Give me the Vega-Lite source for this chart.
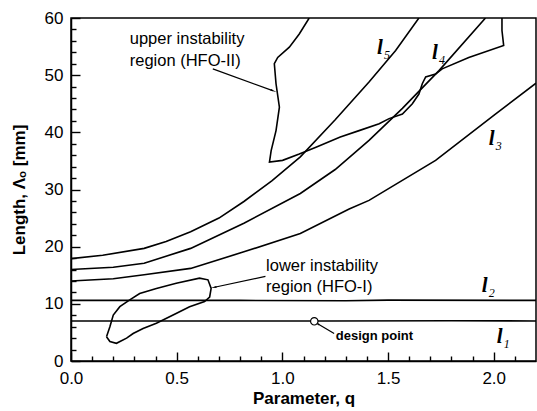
{
  "$schema": "https://vega.github.io/schema/vega-lite/v6.json",
  "width": 465,
  "height": 343,
  "autosize": "none",
  "padding": {"left": 71, "top": 18, "right": 1, "bottom": 50},
  "background": "white",
  "config": {
    "view": {"stroke": "black", "strokeWidth": 1.5},
    "axis": {
      "domainColor": "black", "domainWidth": 1.5, "tickColor": "black", "tickWidth": 1.4, "ticks": true,
      "labelColor": "black", "titleColor": "black", "grid": false, "labelOverlap": false, "labelFlush": false,
      "labelFont": "Liberation Sans", "labelFontSize": 17,
      "titleFont": "Liberation Sans", "titleFontSize": 17, "titleFontWeight": "bold"
    }
  },
  "datasets": {
    "curves": [
      {"s": "l1", "i": 0, "x": 0, "y": 7.0}, {"s": "l1", "i": 1, "x": 0.6, "y": 7.0}, {"s": "l1", "i": 2, "x": 1.2, "y": 7.0}, {"s": "l1", "i": 3, "x": 1.8, "y": 7.05}, {"s": "l1", "i": 4, "x": 2.2, "y": 7.0},
      {"s": "l2", "i": 0, "x": 0, "y": 10.6}, {"s": "l2", "i": 1, "x": 0.8, "y": 10.6}, {"s": "l2", "i": 2, "x": 1.3, "y": 10.55}, {"s": "l2", "i": 3, "x": 1.5, "y": 10.65}, {"s": "l2", "i": 4, "x": 2.2, "y": 10.6},
      {"s": "l3", "i": 0, "x": 0, "y": 14.0}, {"s": "l3", "i": 1, "x": 0.2, "y": 14.4}, {"s": "l3", "i": 2, "x": 0.346, "y": 15.1}, {"s": "l3", "i": 3, "x": 0.566, "y": 16.2}, {"s": "l3", "i": 4, "x": 0.818, "y": 19.1}, {"s": "l3", "i": 5, "x": 1.085, "y": 22.3}, {"s": "l3", "i": 6, "x": 1.316, "y": 26.6}, {"s": "l3", "i": 7, "x": 1.41, "y": 28.1}, {"s": "l3", "i": 8, "x": 1.725, "y": 35.1}, {"s": "l3", "i": 9, "x": 2.008, "y": 43.2}, {"s": "l3", "i": 10, "x": 2.2, "y": 48.6},
      {"s": "l4", "i": 0, "x": 0, "y": 16.0}, {"s": "l4", "i": 1, "x": 0.2, "y": 16.4}, {"s": "l4", "i": 2, "x": 0.346, "y": 17.1}, {"s": "l4", "i": 3, "x": 0.566, "y": 19.7}, {"s": "l4", "i": 4, "x": 0.818, "y": 24.1}, {"s": "l4", "i": 5, "x": 1.085, "y": 29.3}, {"s": "l4", "i": 6, "x": 1.25, "y": 33.5}, {"s": "l4", "i": 7, "x": 1.41, "y": 38.6}, {"s": "l4", "i": 8, "x": 1.568, "y": 44.2}, {"s": "l4", "i": 9, "x": 1.741, "y": 50.8}, {"s": "l4", "i": 10, "x": 1.961, "y": 60},
      {"s": "l5", "i": 0, "x": 0, "y": 17.9}, {"s": "l5", "i": 1, "x": 0.15, "y": 18.5}, {"s": "l5", "i": 2, "x": 0.346, "y": 19.7}, {"s": "l5", "i": 3, "x": 0.45, "y": 20.9}, {"s": "l5", "i": 4, "x": 0.566, "y": 22.6}, {"s": "l5", "i": 5, "x": 0.7, "y": 25.0}, {"s": "l5", "i": 6, "x": 0.818, "y": 27.9}, {"s": "l5", "i": 7, "x": 0.95, "y": 31.5}, {"s": "l5", "i": 8, "x": 1.085, "y": 35.7}, {"s": "l5", "i": 9, "x": 1.25, "y": 42.2}, {"s": "l5", "i": 10, "x": 1.41, "y": 48.8}, {"s": "l5", "i": 11, "x": 1.536, "y": 54.3}, {"s": "l5", "i": 12, "x": 1.646, "y": 60},
      {"s": "up", "i": 0, "x": 1.127, "y": 60}, {"s": "up", "i": 1, "x": 1.08, "y": 57.2}, {"s": "up", "i": 2, "x": 1.033, "y": 54.9}, {"s": "up", "i": 3, "x": 0.978, "y": 53.1}, {"s": "up", "i": 4, "x": 0.962, "y": 52.0}, {"s": "up", "i": 5, "x": 0.97, "y": 48.5}, {"s": "up", "i": 6, "x": 0.986, "y": 44.4}, {"s": "up", "i": 7, "x": 0.97, "y": 40.3}, {"s": "up", "i": 8, "x": 0.947, "y": 36.8}, {"s": "up", "i": 9, "x": 0.939, "y": 34.8}, {"s": "up", "i": 10, "x": 1.001, "y": 35.1}, {"s": "up", "i": 11, "x": 1.08, "y": 36.2}, {"s": "up", "i": 12, "x": 1.159, "y": 37.4}, {"s": "up", "i": 13, "x": 1.274, "y": 39.2}, {"s": "up", "i": 14, "x": 1.363, "y": 40.3}, {"s": "up", "i": 15, "x": 1.458, "y": 41.5}, {"s": "up", "i": 16, "x": 1.505, "y": 42.4}, {"s": "up", "i": 17, "x": 1.568, "y": 43.2}, {"s": "up", "i": 18, "x": 1.615, "y": 45.0}, {"s": "up", "i": 19, "x": 1.646, "y": 46.7}, {"s": "up", "i": 20, "x": 1.662, "y": 48.5}, {"s": "up", "i": 21, "x": 1.678, "y": 49.7}, {"s": "up", "i": 22, "x": 1.725, "y": 50.2}, {"s": "up", "i": 23, "x": 1.756, "y": 51.1}, {"s": "up", "i": 24, "x": 1.882, "y": 53.1}, {"s": "up", "i": 25, "x": 2.047, "y": 55.2}, {"s": "up", "i": 26, "x": 2.039, "y": 57.8}, {"s": "up", "i": 27, "x": 2.039, "y": 60},
      {"s": "low", "i": 0, "x": 0.168, "y": 4.25}, {"s": "low", "i": 1, "x": 0.184, "y": 6.0}, {"s": "low", "i": 2, "x": 0.2, "y": 8.04}, {"s": "low", "i": 3, "x": 0.231, "y": 9.5}, {"s": "low", "i": 4, "x": 0.278, "y": 10.7}, {"s": "low", "i": 5, "x": 0.325, "y": 11.8}, {"s": "low", "i": 6, "x": 0.404, "y": 12.7}, {"s": "low", "i": 7, "x": 0.498, "y": 13.6}, {"s": "low", "i": 8, "x": 0.608, "y": 14.5}, {"s": "low", "i": 9, "x": 0.648, "y": 14.2}, {"s": "low", "i": 10, "x": 0.663, "y": 12.7}, {"s": "low", "i": 11, "x": 0.656, "y": 11.2}, {"s": "low", "i": 12, "x": 0.632, "y": 10.4}, {"s": "low", "i": 13, "x": 0.561, "y": 9.5}, {"s": "low", "i": 14, "x": 0.483, "y": 8.04}, {"s": "low", "i": 15, "x": 0.404, "y": 6.6}, {"s": "low", "i": 16, "x": 0.341, "y": 5.7}, {"s": "low", "i": 17, "x": 0.294, "y": 4.8}, {"s": "low", "i": 18, "x": 0.263, "y": 4.0}, {"s": "low", "i": 19, "x": 0.215, "y": 3.1}, {"s": "low", "i": 20, "x": 0.184, "y": 3.4}, {"s": "low", "i": 21, "x": 0.168, "y": 4.25}
    ],
    "notes": [
      {"t": "upper instability", "x": 0.278, "y": 55.4},
      {"t": "region (HFO-II)", "x": 0.278, "y": 51.6},
      {"t": "lower instability", "x": 0.923, "y": 15.7},
      {"t": "region (HFO-I)", "x": 0.923, "y": 12.1}
    ],
    "design": [{"t": "design point", "x": 1.253, "y": 3.7, "px": 1.151, "py": 6.95}],
    "arrows": [
      {"a": "upper", "x": 0.671, "y": 51.1, "x2": 0.954, "y2": 47.3},
      {"a": "lower", "x": 0.92, "y": 14.8, "x2": 0.679, "y2": 12.9},
      {"a": "design", "x": 1.245, "y": 4.8, "x2": 1.167, "y2": 6.5}
    ],
    "clabels": [
      {"t": "l", "sub": "5", "x": 1.448, "y": 53.7},
      {"t": "l", "sub": "4", "x": 1.708, "y": 52.8},
      {"t": "l", "sub": "3", "x": 1.976, "y": 37.8},
      {"t": "l", "sub": "2", "x": 1.943, "y": 12.1},
      {"t": "l", "sub": "1", "x": 2.014, "y": 3.1}
    ]
  },
  "resolve": {"axis": {"x": "independent", "y": "independent"}},
  "layer": [
    {
      "layer": [
        {
          "data": {"name": "curves"},
          "mark": {"type": "line", "color": "black", "strokeWidth": 1.6, "clip": true},
          "encoding": {
            "x": {"field": "x", "type": "quantitative", "scale": {"domain": [0, 2.2], "nice": false, "zero": false},
              "axis": {
                "orient": "bottom", "title": "Parameter, q",
                "values": [0, 0.5, 1.0, 1.5, 2.0], "format": ".1f",
                "tickSize": -9, "labelPadding": 18, "titlePadding": 4
              }},
            "y": {"field": "y", "type": "quantitative", "scale": {"domain": [0, 60], "nice": false},
              "axis": {
                "orient": "left", "title": "Length, Λₒ [mm]",
                "values": [0, 10, 20, 30, 40, 50, 60],
                "tickSize": -9, "labelPadding": 17, "titlePadding": 16
              }},
            "detail": {"field": "s"},
            "order": {"field": "i", "type": "quantitative"}
          }
        },
        {
          "data": {"name": "arrows"},
          "mark": {"type": "rule", "color": "black", "strokeWidth": 1.2},
          "encoding": {
            "x": {"field": "x", "type": "quantitative"}, "y": {"field": "y", "type": "quantitative"},
            "x2": {"field": "x2"}, "y2": {"field": "y2"}
          }
        },
        {
          "data": {"name": "arrows"},
          "transform": [{"filter": "datum.a === 'upper'"}],
          "mark": {"type": "point", "shape": "wedge", "filled": true, "color": "black", "size": 50, "angle": 110, "opacity": 1},
          "encoding": {"x": {"field": "x2", "type": "quantitative"}, "y": {"field": "y2", "type": "quantitative"}}
        },
        {
          "data": {"name": "arrows"},
          "transform": [{"filter": "datum.a === 'lower'"}],
          "mark": {"type": "point", "shape": "wedge", "filled": true, "color": "black", "size": 50, "angle": 259, "opacity": 1},
          "encoding": {"x": {"field": "x2", "type": "quantitative"}, "y": {"field": "y2", "type": "quantitative"}}
        },
        {
          "data": {"name": "arrows"},
          "transform": [{"filter": "datum.a === 'design'"}],
          "mark": {"type": "point", "shape": "wedge", "filled": true, "color": "black", "size": 40, "angle": 299, "opacity": 1},
          "encoding": {"x": {"field": "x2", "type": "quantitative"}, "y": {"field": "y2", "type": "quantitative"}}
        },
        {
          "data": {"name": "design"},
          "mark": {"type": "point", "shape": "circle", "filled": true, "fill": "white", "stroke": "black", "strokeWidth": 1.2, "size": 55, "opacity": 1},
          "encoding": {"x": {"field": "px", "type": "quantitative"}, "y": {"field": "py", "type": "quantitative"}}
        },
        {
          "data": {"name": "design"},
          "mark": {"type": "text", "align": "left", "baseline": "alphabetic", "font": "Liberation Sans", "fontSize": 13, "fontWeight": "bold", "color": "black"},
          "encoding": {"x": {"field": "x", "type": "quantitative"}, "y": {"field": "y", "type": "quantitative"}, "text": {"field": "t"}}
        },
        {
          "data": {"name": "notes"},
          "mark": {"type": "text", "align": "left", "baseline": "alphabetic", "font": "Liberation Sans", "fontSize": 16.5, "color": "black"},
          "encoding": {"x": {"field": "x", "type": "quantitative"}, "y": {"field": "y", "type": "quantitative"}, "text": {"field": "t"}}
        },
        {
          "data": {"name": "clabels"},
          "mark": {"type": "text", "align": "left", "baseline": "alphabetic", "font": "Liberation Serif", "fontSize": 21, "fontStyle": "italic", "fontWeight": "bold", "color": "black"},
          "encoding": {"x": {"field": "x", "type": "quantitative"}, "y": {"field": "y", "type": "quantitative"}, "text": {"field": "t"}}
        },
        {
          "data": {"name": "clabels"},
          "mark": {"type": "text", "align": "left", "baseline": "alphabetic", "font": "Liberation Serif", "fontSize": 12, "fontStyle": "italic", "color": "black", "dx": 7, "dy": 5},
          "encoding": {"x": {"field": "x", "type": "quantitative"}, "y": {"field": "y", "type": "quantitative"}, "text": {"field": "sub"}}
        }
      ]
    },
    {
      "data": {"name": "design"},
      "mark": {"type": "point", "opacity": 0},
      "encoding": {
        "x": {"field": "px", "type": "quantitative",
          "axis": {"orient": "bottom", "title": null, "labels": false, "domain": false, "tickSize": -5,
            "values": [0.1, 0.2, 0.3, 0.4, 0.6, 0.7, 0.8, 0.9, 1.1, 1.2, 1.3, 1.4, 1.6, 1.7, 1.8, 1.9, 2.1]}},
        "y": {"field": "py", "type": "quantitative",
          "axis": {"orient": "left", "title": null, "labels": false, "domain": false, "tickSize": -5,
            "values": [2, 4, 6, 8, 12, 14, 16, 18, 22, 24, 26, 28, 32, 34, 36, 38, 42, 44, 46, 48, 52, 54, 56, 58]}}
      }
    }
  ]
}
